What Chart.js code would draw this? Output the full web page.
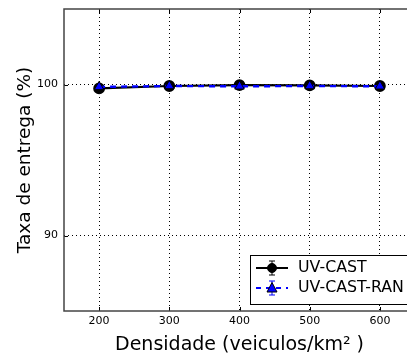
<!DOCTYPE html>
<html>
<head>
<meta charset="utf-8">
<script src="https://cdn.jsdelivr.net/npm/chart.js@4"></script>
<style>
  html, body { margin: 0; padding: 0; background: #fff; overflow: hidden; }
  #wrap { width: 407px; height: 356px; overflow: hidden; }
  canvas { display: block; }
</style>
</head>
<body>
<div id="wrap"><canvas id="c" width="430" height="356"></canvas></div>
<script>
// Densidade de veículos (veículos/km²)
const densities = [200, 300, 400, 500, 600];
// Taxa de entrega (%) por protocolo
const uvCast    = [99.74, 99.90, 99.96, 99.94, 99.90];
const uvCastRan = [99.84, 99.90, 99.88, 99.90, 99.88];
const xTicks = [200, 300, 400, 500, 600];
const yTicks = [90, 100];
const seriesNames = ['UV-CAST', 'UV-CAST-RAN'];

const FONT = 'DejaVu Sans';

const pts = ys => densities.map((x, i) => ({ x, y: ys[i] }));

// Frame, inward tick marks and legend box
const decor = {
  id: 'decor',
  beforeDatasetsDraw(chart) {
    const { ctx, chartArea: a, scales } = chart;
    ctx.save();
    ctx.strokeStyle = '#000';
    ctx.lineWidth = 1;
    xTicks.forEach(v => {
      const px = Math.round(scales.x.getPixelForValue(v)) + 0.5;
      ctx.beginPath();
      ctx.moveTo(px, a.bottom); ctx.lineTo(px, a.bottom - 4);
      ctx.moveTo(px, a.top); ctx.lineTo(px, a.top + 4);
      ctx.stroke();
    });
    yTicks.forEach(v => {
      const py = Math.round(scales.y.getPixelForValue(v)) + 0.5;
      ctx.beginPath();
      ctx.moveTo(a.left, py); ctx.lineTo(a.left + 4, py);
      ctx.moveTo(a.right, py); ctx.lineTo(a.right - 4, py);
      ctx.stroke();
    });
    ctx.restore();
  },
  afterDatasetsDraw(chart) {
    const { ctx, chartArea: a } = chart;
    ctx.save();
    // plot frame
    ctx.strokeStyle = '#444';
    ctx.lineWidth = 1.5;
    ctx.strokeRect(a.left, a.top, a.right - a.left, a.bottom - a.top);

    // legend
    const bx = 250.5, by = 255.5, bw = 200, bh = 49;
    ctx.fillStyle = '#fff';
    ctx.fillRect(bx, by, bw, bh);
    ctx.strokeStyle = '#000';
    ctx.lineWidth = 1;
    ctx.strokeRect(bx, by, bw, bh);

    const rows = [
      { y: 268, color: '#000', dash: [], marker: 'circle' },
      { y: 288, color: '#0000ff', dash: [5, 5], marker: 'triangle' }
    ];
    rows.forEach((r, i) => {
      ctx.strokeStyle = r.color;
      ctx.lineWidth = 2;
      ctx.setLineDash(r.dash);
      ctx.beginPath();
      ctx.moveTo(256, r.y); ctx.lineTo(288, r.y);
      ctx.stroke();
      ctx.setLineDash([]);
      // error bar glyph
      ctx.lineWidth = 1;
      ctx.beginPath();
      ctx.moveTo(272, r.y - 7); ctx.lineTo(272, r.y + 7);
      ctx.moveTo(269, r.y - 7); ctx.lineTo(275, r.y - 7);
      ctx.moveTo(269, r.y + 7); ctx.lineTo(275, r.y + 7);
      ctx.stroke();
      ctx.fillStyle = r.color;
      ctx.strokeStyle = '#000';
      ctx.beginPath();
      if (r.marker === 'circle') {
        ctx.arc(272, r.y, 4.5, 0, Math.PI * 2);
      } else {
        ctx.moveTo(272, r.y - 5.5);
        ctx.lineTo(277, r.y + 4);
        ctx.lineTo(267, r.y + 4);
        ctx.closePath();
      }
      ctx.fill();
      ctx.stroke();
      ctx.fillStyle = '#000';
      ctx.font = '15.8px "' + FONT + '"';
      ctx.textBaseline = 'middle';
      ctx.textAlign = 'left';
      ctx.fillText(seriesNames[i], 298, r.y);
    });
    ctx.restore();
  }
};

new Chart(document.getElementById('c'), {
  type: 'line',
  data: {
    datasets: [
      {
        label: seriesNames[0],
        data: pts(uvCast),
        borderColor: '#000',
        backgroundColor: '#000',
        borderWidth: 2.2,
        pointStyle: 'circle',
        pointRadius: 4.8,
        pointBorderColor: '#000',
        pointBackgroundColor: '#000',
        tension: 0,
        order: 2
      },
      {
        label: seriesNames[1],
        data: pts(uvCastRan),
        borderColor: '#0000ff',
        backgroundColor: '#0000ff',
        borderWidth: 2.4,
        borderDash: [6, 5],
        pointStyle: 'triangle',
        pointRadius: 5.5,
        pointBorderColor: '#000',
        pointBorderWidth: 1,
        pointBackgroundColor: '#0000ff',
        tension: 0,
        order: 1
      }
    ]
  },
  options: {
    responsive: false,
    animation: false,
    layout: { padding: { top: 9, right: 15, left: 0, bottom: 0 } },
    plugins: { legend: { display: false }, tooltip: { enabled: false } },
    scales: {
      x: {
        type: 'linear',
        min: 150, max: 650,
        afterBuildTicks: s => { s.ticks = xTicks.map(v => ({ value: v })); },
        afterFit: s => { s.height = 45; s.paddingLeft = 0; s.paddingRight = 0; },
        grid: { color: '#000', lineWidth: 1, drawTicks: false },
        border: { display: false, dash: [1, 3] },
        ticks: { color: '#000', font: { family: FONT, size: 11 }, padding: 4, maxRotation: 0 },
        title: {
          display: true, text: 'Densidade (veiculos/km² )', color: '#000',
          font: { family: FONT, size: 19 }, padding: { top: 3, bottom: 0 }
        }
      },
      y: {
        min: 85, max: 105,
        afterBuildTicks: s => { s.ticks = yTicks.map(v => ({ value: v })); },
        afterFit: s => { s.width = 64; s.paddingTop = 0; s.paddingBottom = 0; },
        grid: { color: '#000', lineWidth: 1, drawTicks: false },
        border: { display: false, dash: [1, 3] },
        ticks: { color: '#000', font: { family: FONT, size: 11 }, padding: 6 },
        title: {
          display: true, text: 'Taxa de entrega (%)', color: '#000',
          font: { family: FONT, size: 18.5 }, padding: { top: 14, bottom: 0 }
        }
      }
    }
  },
  plugins: [decor]
});
</script>
</body>
</html>
